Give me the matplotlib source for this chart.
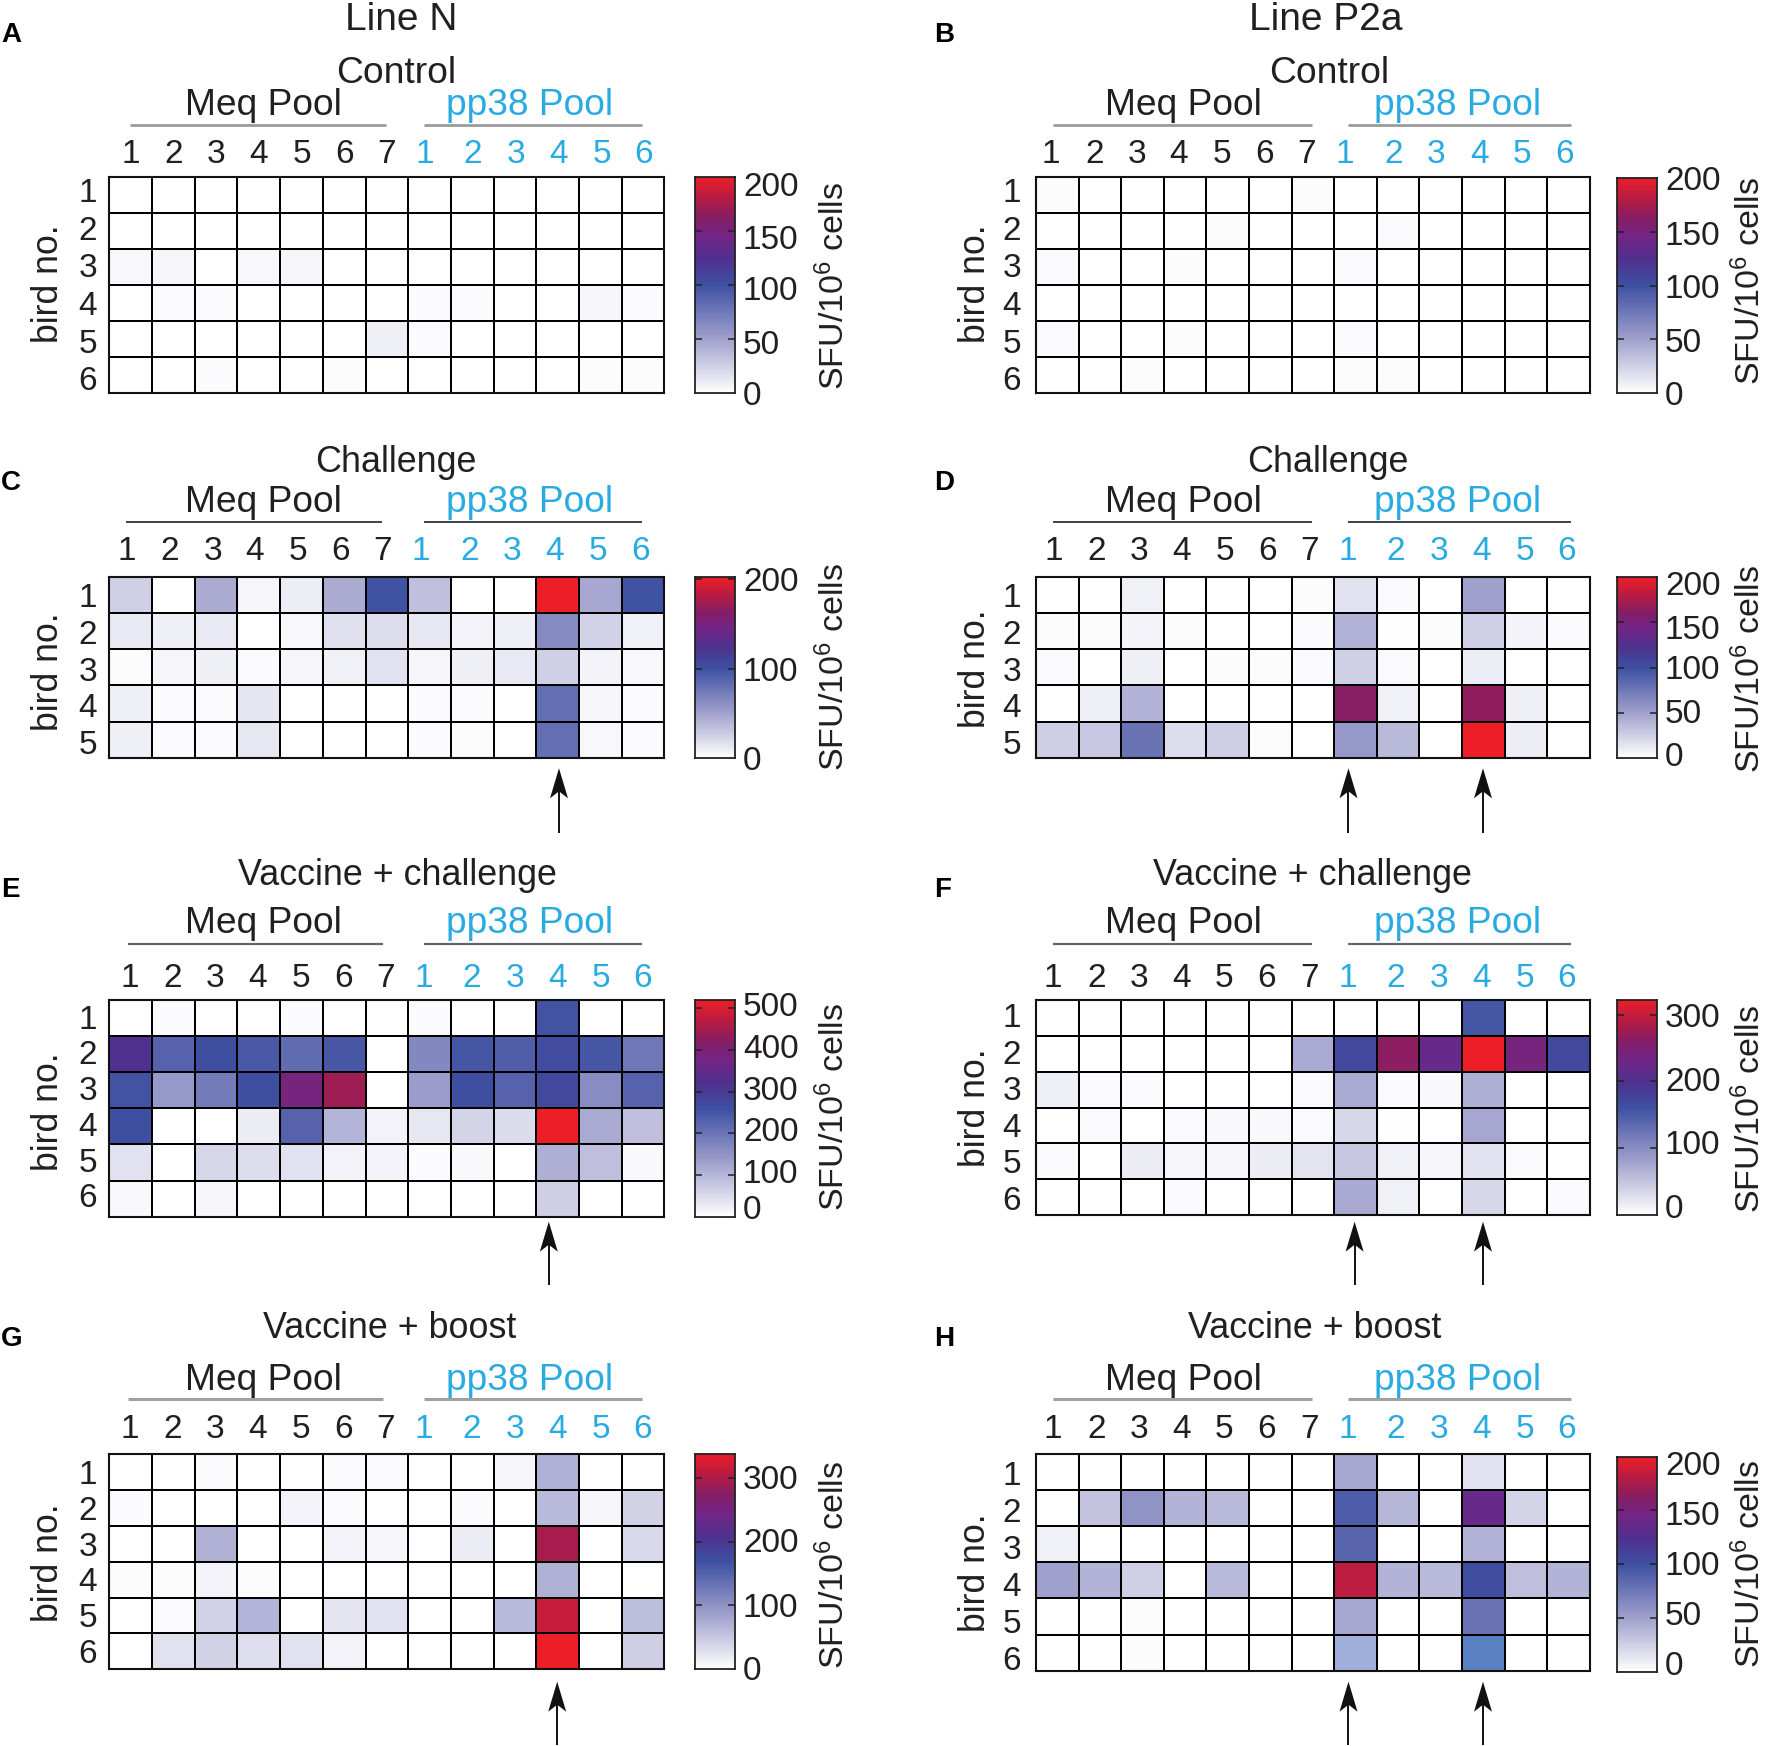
import numpy as np
import matplotlib
matplotlib.use("Agg")
import matplotlib.pyplot as plt
from matplotlib.colors import LinearSegmentedColormap, Normalize, to_rgba
from matplotlib.patches import Polygon

plt.rcParams['font.family'] = ['Liberation Sans', 'DejaVu Sans']
plt.rcParams['mathtext.default'] = 'regular'

# ---------- data (SFU / 10^6 cells), rows = birds, columns = 7 Meq + 6 pp38 pools ----------
meq_labels = ['1', '2', '3', '4', '5', '6', '7']
pp38_labels = ['1', '2', '3', '4', '5', '6']

values_A = [
    [0, 0, 0, 0, 0, 0, 0, 0, 0, 0, 0, 0, 0],
    [0, 0, 0, 0, 0, 0, 0, 0, 0, 0, 0, 0, 0],
    [4, 5, 0, 4, 6, 0, 0, 0, 0, 0, 0, 0, 0],
    [0, 3, 3, 0, 0, 0, 0, 3, 3, 0, 0, 5, 3],
    [0, 0, 0, 0, 0, 0, 9, 3, 0, 0, 0, 0, 0],
    [0, 0, 3, 0, 0, 2, 0, 0, 0, 0, 0, 2, 2],
]
values_B = [
    [2, 0, 0, 0, 0, 0, 2, 0, 0, 0, 0, 0, 0],
    [0, 0, 0, 0, 2, 0, 0, 0, 3, 0, 0, 0, 0],
    [3, 0, 0, 2, 0, 0, 0, 3, 0, 0, 0, 0, 0],
    [0, 0, 0, 0, 0, 0, 0, 0, 0, 0, 0, 0, 0],
    [3, 0, 0, 2, 0, 0, 0, 3, 0, 0, 0, 0, 0],
    [0, 0, 2, 0, 0, 0, 0, 2, 2, 0, 0, 0, 0],
]
values_C = [
    [26, 0, 45, 5, 10, 45, 100, 34, 0, 0, 203, 47, 100],
    [12, 9, 12, 0, 4, 17, 19, 13, 7, 9, 65, 25, 8],
    [2, 5, 9, 3, 5, 8, 16, 5, 9, 12, 26, 7, 4],
    [9, 3, 3, 14, 0, 0, 0, 3, 3, 0, 82, 5, 3],
    [9, 3, 3, 13, 0, 0, 0, 3, 2, 0, 82, 4, 3],
]
values_D = [
    [0, 0, 8, 0, 0, 0, 2, 16, 3, 0, 50, 0, 0],
    [2, 2, 7, 2, 0, 0, 3, 40, 1, 2, 25, 7, 3],
    [3, 0, 9, 0, 2, 2, 3, 25, 3, 0, 10, 0, 0],
    [0, 9, 40, 0, 0, 0, 0, 162, 8, 0, 165, 9, 0],
    [26, 29, 78, 18, 26, 2, 0, 55, 37, 0, 200, 10, 0],
]
values_E = [
    [0, 7, 0, 0, 7, 0, 0, 7, 0, 0, 255, 0, 0],
    [322, 229, 260, 245, 215, 247, 0, 170, 250, 237, 270, 250, 197],
    [255, 143, 190, 260, 385, 442, 0, 137, 262, 229, 276, 163, 229],
    [262, 0, 0, 28, 229, 102, 20, 34, 59, 50, 520, 116, 89],
    [41, 0, 55, 48, 41, 20, 18, 7, 10, 0, 110, 89, 10],
    [10, 0, 14, 0, 0, 0, 0, 0, 0, 0, 68, 0, 0],
]
values_F = [
    [0, 0, 0, 0, 0, 0, 0, 0, 0, 0, 155, 0, 0],
    [0, 0, 0, 0, 0, 0, 72, 170, 264, 219, 322, 238, 171],
    [14, 4, 4, 0, 0, 0, 4, 72, 4, 6, 68, 0, 0],
    [0, 4, 0, 4, 6, 6, 4, 34, 2, 0, 76, 0, 0],
    [4, 0, 17, 8, 8, 17, 23, 48, 13, 9, 26, 4, 0],
    [0, 0, 0, 4, 0, 0, 0, 74, 13, 0, 34, 0, 4],
]
values_G = [
    [0, 0, 4, 0, 0, 4, 4, 0, 0, 9, 71, 0, 0],
    [4, 0, 0, 0, 11, 4, 0, 0, 4, 0, 62, 9, 40],
    [0, 0, 71, 0, 0, 13, 9, 0, 18, 0, 293, 0, 35],
    [3, 3, 11, 3, 0, 0, 0, 0, 0, 0, 71, 0, 0],
    [0, 4, 42, 66, 0, 24, 27, 0, 0, 62, 313, 0, 58],
    [0, 27, 40, 29, 27, 13, 0, 0, 0, 0, 337, 0, 44],
]
values_H = [
    [0, 0, 0, 0, 0, 0, 0, 47, 0, 0, 16, 0, 0],
    [0, 32, 58, 40, 37, 0, 0, 92, 39, 0, 136, 23, 0],
    [8, 0, 0, 0, 0, 0, 0, 86, 0, 0, 40, 0, 0],
    [50, 40, 25, 0, 37, 0, 0, 182, 40, 37, 102, 34, 40],
    [0, 0, 2, 0, 0, 0, 0, 47, 0, 0, 78, 0, 0],
    [0, 0, 2, 0, 0, 0, 0, 50, 0, 0, 84, 0, 0],
]
# two cells in panel H are printed in a steel blue that is not on the colour bar
off_scale_H = {(5, 7): '#a0afdc', (5, 10): '#5880c2'}

ticks_200 = [0, 50, 100, 150, 200]
ticks_C = [0, 100, 200]
ticks_E = [0, 100, 200, 300, 400, 500]
ticks_FG = [0, 100, 200, 300]

INK = '#231f20'
BLUE = '#29abe2'
W, H = 1772, 1746

cmap = LinearSegmentedColormap.from_list('sfu', [
    (0.00, (1, 1, 1)),
    (0.25, (160/255, 160/255, 205/255)),
    (0.50, (62/255, 80/255, 162/255)),
    (0.62, (80/255, 48/255, 142/255)),
    (0.72, (115/255, 38/255, 135/255)),
    (0.80, (130/255, 30/255, 105/255)),
    (0.88, (172/255, 28/255, 72/255)),
    (1.00, (238/255, 30/255, 40/255)),
], N=256)

LEFT = dict(grid_x=(109.4, 664.4), cbar_x=(694.7, 734.6), tick_x=743, cbar_lab_x=834,
            bird_x=49, row_x=87.7, letter_x=1, meq_x=263.5, pp_x=530,
            meq_rule=(130.2, 386), pp_rule=(423.7, 642.5))
RIGHT = dict(grid_x=(1035.9, 1589.8), cbar_x=(1617.3, 1656.5), tick_x=1665, cbar_lab_x=1750,
             bird_x=976, row_x=1012, letter_x=934, meq_x=1183, pp_x=1458,
             meq_rule=(1052.7, 1312), pp_rule=(1348.5, 1570.7))

panels = [
    dict(side=LEFT, letter='A', letter_y=41.7, title='Control', title_size=26.8, title_x=396, title_y=82.7,
         values=values_A, vmax=200, grid_y=(176.7, 393.3), cbar_y=(176.7, 393.3),
         ticks=ticks_200, tick_y=[393.3, 341.7, 288.3, 236.7, 184.3],
         pool_y=114.8, rule_y=125, rule_c='#9a9a9a', rule_w=2.0, digit_y=163.3, shift=0,
         row_y=(190, 37.7), bird_y=284, cbar_lab_y=286, arrows=[], arrow_y=None),
    dict(side=RIGHT, letter='B', letter_y=41.7, title='Control', title_size=26.8, title_x=1329, title_y=82.7,
         values=values_B, vmax=200, grid_y=(176.7, 393.3), cbar_y=(178, 393.3),
         ticks=ticks_200, tick_y=[393.3, 340, 286, 233, 178],
         pool_y=114.8, rule_y=125, rule_c='#9a9a9a', rule_w=2.0, digit_y=163.3, shift=-5.8,
         row_y=(190, 37.7), bird_y=284, cbar_lab_y=281, arrows=[], arrow_y=None),
    dict(side=LEFT, letter='C', letter_y=490, title='Challenge', title_size=25.8, title_x=395.6, title_y=471.7,
         values=values_C, vmax=203, grid_y=(576.7, 757.7), cbar_y=(576.7, 757.7),
         ticks=ticks_C, tick_y=[758.3, 669, 579.3],
         pool_y=511.5, rule_y=522, rule_c='#333333', rule_w=1.3, digit_y=560, shift=-3.6,
         row_y=(595, 36.8), bird_y=671.7, cbar_lab_y=667.5, arrows=[559], arrow_y=(832.7, 768.3),
         meq_rule=(125.7, 381.6)),
    dict(side=RIGHT, letter='D', letter_y=490, title='Challenge', title_size=25.8, title_x=1328.3, title_y=471.7,
         values=values_D, vmax=200, grid_y=(576.7, 757.7), cbar_y=(577.3, 757.7),
         ticks=ticks_200, tick_y=[754.3, 711, 667.3, 626.7, 583.3],
         pool_y=511.5, rule_y=522, rule_c='#333333', rule_w=1.3, digit_y=560, shift=-3.4,
         row_y=(595, 36.8), bird_y=669, cbar_lab_y=669, arrows=[1348.5, 1483], arrow_y=(832.7, 768.3)),
    dict(side=LEFT, letter='E', letter_y=896.7, title='Vaccine + challenge', title_size=25.8, title_x=397, title_y=885,
         values=values_E, vmax=520, grid_y=(1000, 1216.7), cbar_y=(1000, 1216.7),
         ticks=ticks_E, tick_y=[1206.7, 1171, 1129.3, 1087.7, 1045.7, 1004],
         pool_y=933.2, rule_y=944, rule_c='#666666', rule_w=1.6, digit_y=986.7, shift=-1,
         row_y=(1016.7, 35.7), bird_y=1111.7, cbar_lab_y=1107.5, arrows=[548.8], arrow_y=(1285, 1221.7),
         meq_rule=(128, 383)),
    dict(side=RIGHT, letter='F', letter_y=896.7, title='Vaccine + challenge', title_size=25.8, title_x=1312, title_y=885,
         values=values_F, vmax=322, grid_y=(1000, 1215), cbar_y=(1000, 1215),
         ticks=ticks_FG, tick_y=[1205.7, 1142.3, 1079.3, 1015],
         pool_y=933.2, rule_y=944, rule_c='#666666', rule_w=1.6, digit_y=986.7, shift=-3.6,
         row_y=(1015, 36.6), bird_y=1107.5, cbar_lab_y=1108.6, arrows=[1354.6, 1483], arrow_y=(1285, 1221.7)),
    dict(side=LEFT, letter='G', letter_y=1346, title='Vaccine + boost', title_size=25.8, title_x=389.5, title_y=1338.3,
         values=values_G, vmax=337, grid_y=(1454, 1669.3), cbar_y=(1454, 1669.3),
         ticks=ticks_FG, tick_y=[1667.7, 1605, 1540, 1476.7],
         pool_y=1389.8, rule_y=1399.3, rule_c='#a0a0a0', rule_w=2.2, digit_y=1438.3, shift=-1,
         row_y=(1472, 35.8), bird_y=1562.5, cbar_lab_y=1564.7, arrows=[557.2], arrow_y=(1745, 1681.7),
         meq_rule=(128, 383)),
    dict(side=RIGHT, letter='H', letter_y=1346, title='Vaccine + boost', title_size=25.8, title_x=1315, title_y=1338.3,
         values=values_H, vmax=200, grid_y=(1454, 1670.7), cbar_y=(1456.7, 1671.7),
         ticks=ticks_200, tick_y=[1663.3, 1613.3, 1563.3, 1512.7, 1462.7],
         pool_y=1389.8, rule_y=1399.3, rule_c='#a0a0a0', rule_w=2.2, digit_y=1438.3, shift=-3.6,
         row_y=(1473, 37), bird_y=1572.5, cbar_lab_y=1564, arrows=[1348.5, 1483], arrow_y=(1745, 1681.7),
         off_scale=off_scale_H),
]

meq_offsets = [20.9, 64.1, 106.8, 148.9, 192.1, 234.7, 276.8]
pp_offsets = [315, 363.6, 406.3, 449, 492.2, 534.3]

fig = plt.figure(figsize=(W / 100, H / 100), dpi=100, facecolor='white')

# full-figure layer in pixel coordinates for the free-standing labels
over = fig.add_axes([0, 0, 1, 1], zorder=5)
over.set_xlim(0, W)
over.set_ylim(H, 0)
over.axis('off')
over.patch.set_alpha(0)


def px_axes(xr, yr):
    return fig.add_axes([xr[0] / W, 1 - yr[1] / H, (xr[1] - xr[0]) / W, (yr[1] - yr[0]) / H])


def txt(x, y, s, size=24, color=INK, ha='center', va='baseline', **kw):
    over.text(x, y, s, fontsize=size, color=color, ha=ha, va=va, **kw)


over.text(400.7, 30, 'Line N', fontsize=28, color=INK, ha='center', va='baseline')
over.text(1325.7, 30, 'Line P2a', fontsize=28, color=INK, ha='center', va='baseline')

for p in panels:
    s = p['side']
    vals = np.array(p['values'], dtype=float)
    nrows, ncols = vals.shape
    norm = Normalize(0, p['vmax'])

    # heat map
    ax = px_axes(s['grid_x'], p['grid_y'])
    mesh = ax.pcolormesh(np.arange(ncols + 1), np.arange(nrows + 1), vals, cmap=cmap, norm=norm,
                         edgecolors='black', linewidth=1.3)
    if p.get('off_scale'):
        rgba = cmap(norm(vals))
        for (r, c), col in p['off_scale'].items():
            rgba[r, c] = to_rgba(col)
        mesh.set_array(None)
        mesh.set_facecolor(rgba.reshape(-1, 4))
    ax.set_xlim(0, ncols)
    ax.set_ylim(nrows, 0)
    ax.set_xticks([])
    ax.set_yticks([])
    for sp in ax.spines.values():
        sp.set_linewidth(1.5)
        sp.set_color('#111111')

    # colour bar
    cax = px_axes(s['cbar_x'], p['cbar_y'])
    grad = np.linspace(0, p['vmax'], 256).reshape(-1, 1)
    cax.imshow(grad, cmap=cmap, norm=norm, aspect='auto', origin='lower',
               extent=(0, 1, 0, p['vmax']), interpolation='nearest')
    cax.set_xticks([])
    cax.set_yticks([t for t in p['ticks'] if 0 < t < p['vmax']])
    cax.tick_params(axis='y', direction='in', length=5, width=1.1, color='#222222',
                    left=True, right=True, labelleft=False, labelright=False)
    for sp in cax.spines.values():
        sp.set_linewidth(1.3)
        sp.set_color('#222222')

    # colour-bar labels
    for t, y in zip(p['ticks'], p['tick_y']):
        txt(s['tick_x'], y + 12, str(t), ha='left')
    txt(s['cbar_lab_x'], p['cbar_lab_y'], 'SFU/10$^{6}$ cells', size=24.5, rotation=90, ha='center', va='center')

    # panel letter and titles
    txt(s['letter_x'], p['letter_y'], p['letter'], size=20, color='black', ha='left', fontweight='bold')
    txt(p['title_x'], p['title_y'], p['title'], size=p['title_size'])
    txt(s['meq_x'], p['pool_y'], 'Meq Pool', size=26.7)
    txt(s['pp_x'], p['pool_y'], 'pp38 Pool', size=26.7, color=BLUE)

    # rules under the pool names
    mr = p.get('meq_rule', s['meq_rule'])
    over.plot(mr, [p['rule_y']] * 2, color=p['rule_c'], lw=p['rule_w'], solid_capstyle='butt')
    over.plot(s['pp_rule'], [p['rule_y']] * 2, color=p['rule_c'], lw=p['rule_w'], solid_capstyle='butt')

    # column numbers
    x0 = 109.4 if s is LEFT else 1035.9
    base_shift = p['shift']
    for off, lab in zip(meq_offsets, meq_labels):
        txt(x0 + off + base_shift, p['digit_y'], lab)
    for off, lab in zip(pp_offsets, pp38_labels):
        txt(x0 + off + base_shift, p['digit_y'], lab, color=BLUE)

    # bird numbers
    y0, dy = p['row_y']
    for i in range(nrows):
        txt(s['row_x'], y0 + i * dy + 12, str(i + 1))
    txt(s['bird_x'], p['bird_y'], 'bird no.', size=25.7, rotation=90, ha='center', va='center')

    # arrows
    for ax_x in p['arrows']:
        y_end, y_tip = p['arrow_y']
        over.plot([ax_x, ax_x], [y_end, y_tip + 20], color='#111111', lw=1.4, solid_capstyle='butt')
        over.add_patch(Polygon([(ax_x, y_tip), (ax_x + 9, y_tip + 30), (ax_x, y_tip + 23),
                                (ax_x - 9, y_tip + 30)], closed=True, fc='#111111', ec='none'))

over.set_xlim(0, W)
over.set_ylim(H, 0)
fig.savefig('out.png', dpi=100, facecolor='white')
